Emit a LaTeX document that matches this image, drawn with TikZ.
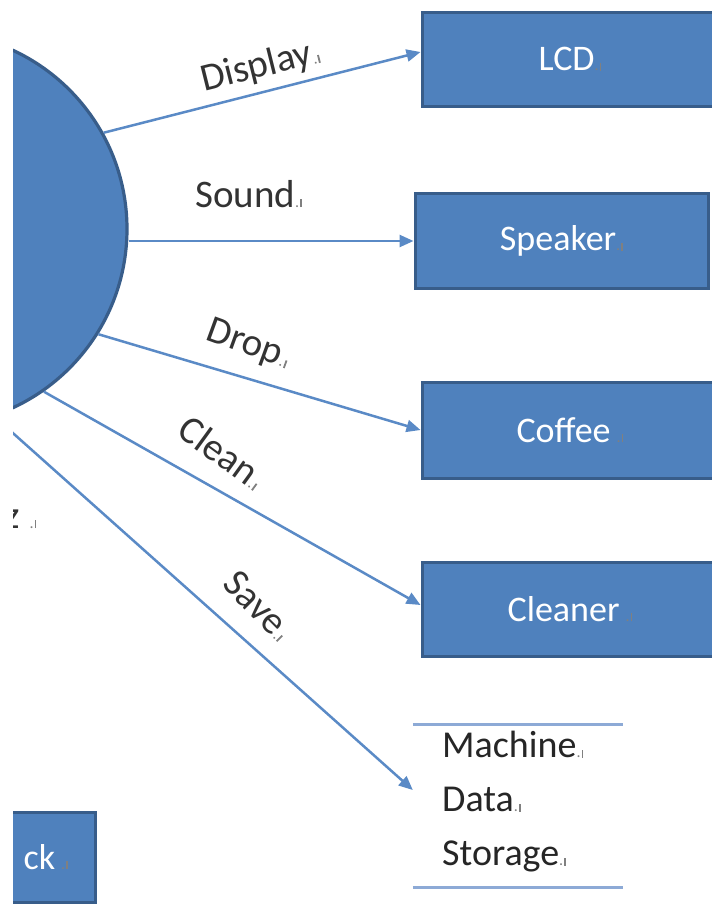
\documentclass[tikz,border=0pt]{standalone}
\usepackage{fontspec}
\setmainfont{Carlito}
\usetikzlibrary{arrows.meta,calc}
\definecolor{fillblue}{HTML}{4F81BD}
\definecolor{edgeblue}{HTML}{385D8A}
\definecolor{linkblue}{HTML}{5A8AC6}
\definecolor{storeline}{HTML}{8DAAD6}
\newcommand{\parmark}{\textcolor{gray}{\fontsize{16}{16}\selectfont .\kern1pt\rule{1.8pt}{8pt}}}
\begin{document}
\begin{tikzpicture}[x=1pt,y=-1pt,
  every node/.style={font=\fontsize{36}{43}\selectfont},
  procbox/.style={draw=edgeblue, fill=fillblue, line width=3pt, text=white, inner sep=0pt},
  entity/.style={circle, draw=edgeblue, fill=fillblue, line width=3.2pt, minimum size=394pt, inner sep=0pt},
  flow/.style={draw=linkblue, line width=2.5pt, -{Triangle[length=14pt,width=12pt]}},
  flowlabel/.style={text=black!80, inner sep=0pt, font=\fontsize{39}{46}\selectfont},
  storeedge/.style={draw=storeline, line width=3pt}
  ]
\useasboundingbox (0,0) rectangle (712,905);
\fill[white] (0,0) rectangle (712,905);
\begin{scope}
\clip (13,0) rectangle (712,905);
% entity
\node[entity] (sys) at (-70,229) {};
% process boxes
\node[procbox, minimum width=296pt, minimum height=94pt] (lcd) at (570,59) {LCD\parmark};
\node[procbox, minimum width=293pt, minimum height=95pt] (spk) at (561.5,241) {Speaker\parmark};
\node[procbox, minimum width=296pt, minimum height=96pt] (cof) at (570,430) {Coffee\,\parmark};
\node[procbox, minimum width=296pt, minimum height=94pt] (cln) at (570,609) {Cleaner\,\parmark};
\node[procbox, minimum width=148pt, minimum height=90pt, text width=94pt, align=right] (clk) at (21,857) {ck\,\parmark};
% data store
\node[minimum width=210pt, minimum height=162pt, inner sep=0pt] (store) at (518,806) {};
\draw[storeedge] (store.north west) -- (store.north east);
\draw[storeedge] (store.south west) -- (store.south east);
\node[anchor=west, align=left, inner sep=0pt, text=black!85, font=\fontsize{38}{54}\selectfont] (storetext) at (442,802) {Machine\parmark\\Data\parmark\\Storage\parmark};
% partial label at left
\node[anchor=base west, flowlabel] (zlabel) at (4,528) {z\hspace{10pt}\parmark};
% flows
\draw[flow] (sys.29) -- ([yshift=7pt]lcd.west);
\draw[flow] (spk.west -| sys.east) -- (spk.west);
\draw[flow] (sys.-32) -- (cof.west);
\draw[flow] (sys.-55) -- ([yshift=4pt]cln.west);
\draw[flow] (sys.-71) -- ([yshift=16pt]store.west);
% flow labels
\node[flowlabel, rotate=14] (ldisp) at (260,67) {Display\parmark};
\node[flowlabel, anchor=base west] (lsnd) at (195,207) {Sound\parmark};
\node[flowlabel, rotate=-20] (ldrop) at (248,345) {Drop\parmark};
\node[flowlabel, rotate=-36] (lclean) at (222,452) {Clean\parmark};
\node[flowlabel, rotate=-45] (lsave) at (258,605) {Save\parmark};
\end{scope}
\end{tikzpicture}
\end{document}
